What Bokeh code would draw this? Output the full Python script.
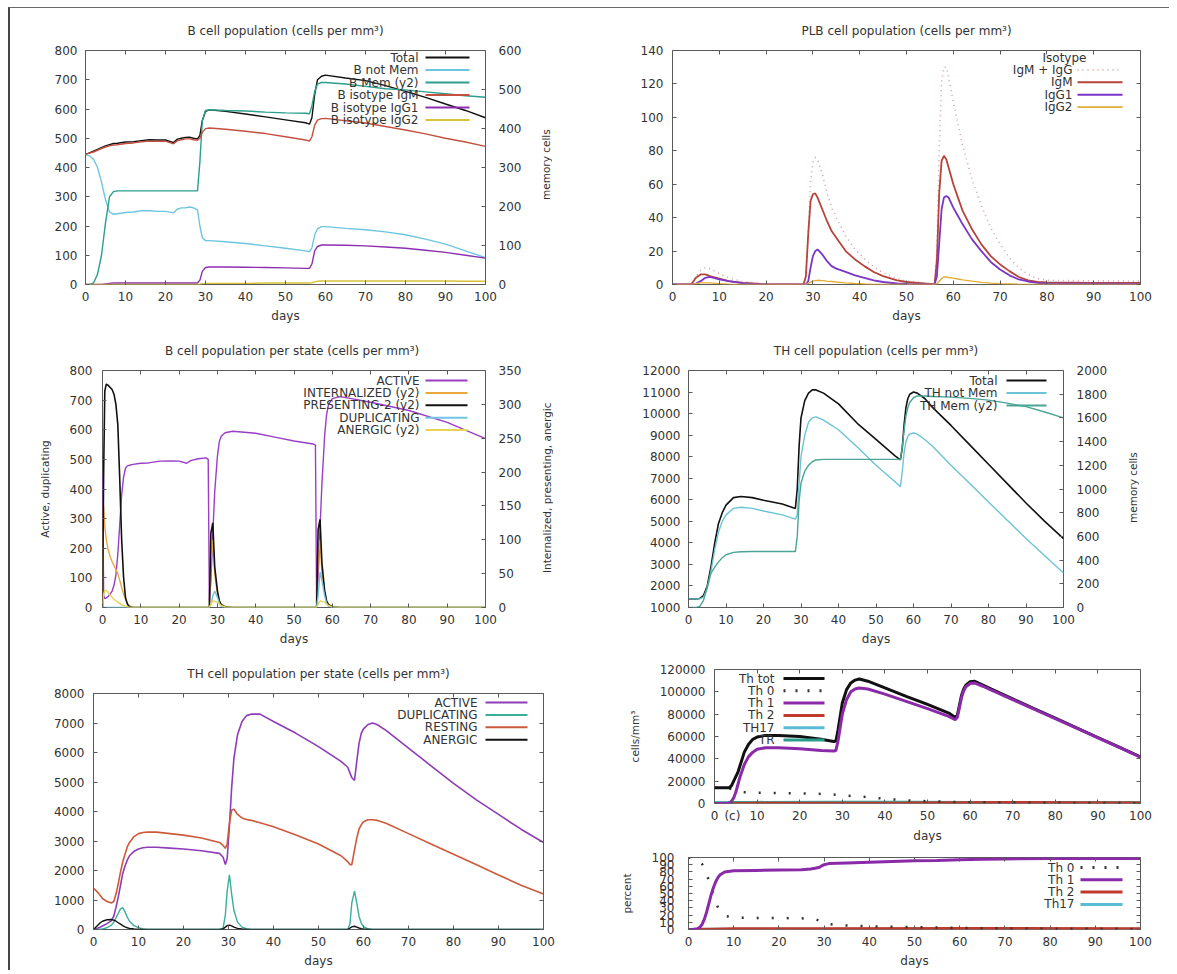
import math
from bokeh.plotting import figure
from bokeh.models import Range1d, LinearAxis, FixedTicker, Label, Arrow, BasicTickFormatter, Div
from bokeh.layouts import row, column
from bokeh.embed import file_html
from bokeh.resources import INLINE

FONT = "DejaVu Sans"
TXT = "#333333"
FRAME = "#5a5a5a"
BLACK = "#111111"
FS = "12px"
FS_ROT = "10.5px"

# ---------------- Panel 1: B cell population ----------------
b_days = [0, 1, 2, 3, 4, 5, 6, 7, 8,
          10, 12, 14, 16, 18, 20, 22,
          23, 24, 25, 26, 27, 28,
          28.6, 29.2, 30, 31,
          35, 40, 45, 50, 55, 56,
          56.6, 57.3, 58, 59, 60,
          65, 70, 75, 80, 85, 90, 95, 100]
b_total = [445, 450, 456, 462, 468, 474, 478, 482, 483,
           487, 488, 492, 495, 494, 494, 485,
           497, 500, 503, 504, 500, 498,
           510, 560, 592, 597,
           592, 583, 573, 563, 553, 548,
           570, 650, 700, 712, 716,
           706, 697, 680, 660, 640, 617, 595, 570]
b_not_mem = [445, 440, 428, 400, 350, 290, 248, 240, 242,
             246, 248, 252, 252, 250, 250, 245,
             258, 262, 262, 265, 262, 255,
             200, 160, 150, 150,
             146, 140, 132, 124, 115, 112,
             125, 170, 190, 198, 198,
             192, 187, 180, 170, 155, 138, 115, 92]
b_mem_y2 = [0, 0, 4, 26, 75, 158, 225, 238, 240,
            240, 240, 240, 240, 240, 240, 240,
            240, 240, 240, 240, 240, 240,
            315, 420, 446, 448,
            446, 445, 442, 440, 439, 438,
            458, 495, 514, 518, 518,
            514, 508, 502, 499, 494, 489, 484, 480]
b_igm = [445, 449, 453, 459, 465, 470, 474, 477, 478,
         482, 484, 488, 490, 490, 490, 481,
         492, 495, 498, 498, 495, 493,
         500, 520, 533, 535,
         531, 524, 516, 505, 494, 490,
         505, 545, 562, 567, 568,
         560, 552, 540, 528, 515, 500, 487, 472]
b_igg1 = [0, 0, 0, 0, 0, 2, 4, 5, 5,
          5, 5, 5, 5, 5, 5, 5,
          5, 5, 5, 5, 5, 5,
          15, 45, 58, 60,
          60, 59, 58, 57, 55, 55,
          70, 115, 130, 135, 135,
          134, 132, 128, 124, 117, 110, 100, 90]
b_igg2 = [0, 0, 0, 0, 0, 0, 0, 0, 0,
          0, 0, 0, 0, 0, 0, 0,
          0, 0, 0, 0, 0, 0,
          1, 3, 4, 4,
          4, 4, 5, 5, 5, 5,
          6, 9, 11, 12, 12,
          12, 12, 12, 12, 12, 12, 11, 11]
b_labels = ["Total", "B not Mem", "B Mem (y2)", "B isotype IgM", "B isotype IgG1", "B isotype IgG2"]

# ---------------- Panel 2: PLB cell population ----------------
plb_days = [0, 4, 5, 6, 7, 8, 10, 12, 15, 18, 20,
            28, 28.5, 29, 29.5, 30, 30.5, 31,
            32, 33, 34, 35, 37, 39, 41, 43, 45, 48, 50,
            55, 56, 56.5, 57, 57.5, 58, 58.5, 59,
            60, 61, 62, 64, 66, 68, 70, 72, 74, 76, 78, 80,
            90, 100]
plb_igm_igg = [0, 0, 5, 8.5, 10, 9.5, 6.5, 4, 1.8, 0.7, 0,
               0, 5, 32, 61, 73, 76, 75,
               66, 55, 46, 40, 29, 21, 15.5, 10.5, 7, 3.5, 2,
               0.5, 0, 20, 82, 121, 130, 130, 124,
               109, 96, 83, 63, 47, 34, 24, 16, 10, 6, 3.5, 2.5,
               2.2, 2]
plb_igm = [0, 0, 4, 6, 6, 5, 3.5, 2, 1, 0.5, 0,
           0, 5, 30, 50, 54, 54.5, 52,
           45, 38, 32, 28, 20, 15, 11, 7.5, 5, 2.5, 1.5,
           0.3, 0, 15, 55, 74, 77, 75, 70,
           60, 52, 44, 33, 24, 17, 12, 8, 4.5, 2.5, 1.5, 1.2,
           1, 1]
plb_igg1 = [0, 0, 0.5, 2, 4, 4.5, 3, 2, 0.8, 0.2, 0,
            0, 0, 2, 10, 17, 20, 21,
            18, 14, 11, 9.5, 7.5, 5.5, 4, 2.5, 1.5, 0.6, 0.3,
            0, 0, 5, 25, 45, 52, 53, 52,
            46, 41, 36, 27, 20, 13.5, 9, 5.5, 3, 1.8, 1, 0.6,
            0.5, 0.4]
plb_igg2 = [0, 0, 0.5, 1, 1, 1, 0.5, 0.2, 0, 0, 0,
            0, 0, 0.5, 1.5, 2, 2.3, 2.5,
            2.3, 2, 1.8, 1.5, 1, 0.6, 0.3, 0.1, 0, 0, 0,
            0, 0, 0.5, 2, 3.5, 4.5, 4.5, 4.2,
            3.8, 3.3, 2.8, 2, 1.3, 0.8, 0.5, 0.3, 0.1, 0, 0, 0,
            0, 0]
plb_labels = ["IgM + IgG", "IgM", "IgG1", "IgG2"]

# ---------------- Panel 3: B cell population per state ----------------
bs_days = [0, 0.3, 0.6, 1, 1.5, 2, 2.5, 3, 3.5, 4,
           4.5, 5, 5.5, 6, 6.5, 7, 8,
           10, 12, 15, 18, 20, 22, 23, 25, 27,
           27.6, 27.9, 28.3, 28.8, 29.3, 30, 30.5, 31, 32, 34,
           40, 45, 50, 55,
           55.6, 55.9, 56.3, 56.8, 57.3, 58, 58.5, 59, 60, 62,
           65, 70, 80, 90, 100]
bs_active = [450, 40, 30, 32, 38, 45, 55, 75, 110, 180,
             280, 380, 440, 470, 478, 480, 483,
             487, 488, 494, 495, 494, 487, 496, 502, 505,
             500, 20, 90, 250, 390, 510, 560, 578, 590, 595,
             588, 575, 562, 552,
             548, 20, 100, 270, 420, 580, 650, 685, 705, 712,
             705, 693, 665, 625, 570]
bs_internalized_y2 = [0, 150, 120, 100, 85, 75, 68, 62, 56, 50,
                      40, 30, 20, 12, 6, 3, 0,
                      0, 0, 0, 0, 0, 0, 0, 0, 0,
                      0, 0, 70, 100, 50, 20, 10, 5, 1, 0,
                      0, 0, 0, 0,
                      0, 0, 70, 100, 50, 20, 10, 5, 1, 0,
                      0, 0, 0, 0, 0]
bs_presenting_y2 = [0, 200, 320, 330, 328, 325, 322, 315, 300, 270,
                    190, 100, 45, 15, 5, 1, 0,
                    0, 0, 0, 0, 0, 0, 0, 0, 0,
                    0, 0, 110, 125, 60, 25, 10, 4, 1, 0,
                    0, 0, 0, 0,
                    0, 0, 115, 130, 65, 25, 10, 4, 1, 0,
                    0, 0, 0, 0, 0]
bs_duplicating = [0, 0, 0, 0, 0, 0, 0, 0, 0, 0,
                  0, 0, 0, 0, 0, 0, 0,
                  0, 0, 0, 0, 0, 0, 0, 0, 0,
                  0, 0, 10, 40, 55, 35, 15, 5, 0, 0,
                  0, 0, 0, 0,
                  0, 0, 40, 120, 90, 40, 15, 5, 0, 0,
                  0, 0, 0, 0, 0]
bs_anergic_y2 = [0, 20, 25, 25, 22, 18, 15, 12, 10, 8,
                 6, 4, 3, 2, 1, 0, 0,
                 0, 0, 0, 0, 0, 0, 0, 0, 0,
                 0, 0, 5, 10, 9, 8, 5, 3, 1, 0,
                 0, 0, 0, 0,
                 0, 0, 5, 10, 9, 8, 5, 3, 1, 0,
                 0, 0, 0, 0, 0]
bs_labels = ["ACTIVE", "INTERNALIZED (y2)", "PRESENTING-2 (y2)", "DUPLICATING", "ANERGIC (y2)"]

# ---------------- Panel 4: TH cell population ----------------
th_days = [0, 2, 3, 4, 5, 6, 7, 8, 9, 10,
           12, 14, 17, 20, 25,
           28.5, 29, 29.5, 30, 31, 32, 33, 34, 36,
           40, 45, 50, 55,
           56.5, 57, 57.5, 58, 58.5, 59, 60, 61, 63, 65,
           70, 75, 80, 85, 90, 95, 100]
th_total = [1400, 1400, 1420, 1550, 2000, 2900, 4000, 4900, 5400, 5750,
            6100, 6150, 6100, 5980, 5800,
            5600, 6500, 8500, 9800, 10600, 10950, 11100, 11100, 10950,
            10450, 9550, 8800, 8050,
            7850, 8400, 9500, 10300, 10700, 10900, 11000, 10950, 10700, 10300,
            9450, 8550, 7650, 6750, 5850, 5000, 4200]
th_not_mem = [1400, 1400, 1400, 1480, 1900, 2700, 3700, 4500, 5000, 5300,
              5600, 5650, 5600, 5480, 5300,
              5100, 5300, 6800, 8000, 9000, 9600, 9800, 9850, 9700,
              9250, 8450, 7600, 6850,
              6600, 7300, 8200, 8700, 8950, 9050, 9100, 9050, 8800, 8500,
              7600, 6750, 5900, 5050, 4200, 3400, 2600]
th_mem_y2 = [0, 0, 10, 60, 170, 290, 340, 385, 420, 445,
             465, 470, 472, 472, 472,
             472, 600, 900, 1050, 1150, 1200, 1230, 1245, 1250,
             1250, 1250, 1250, 1250,
             1250, 1350, 1500, 1620, 1690, 1730, 1770, 1785, 1785, 1780,
             1775, 1765, 1750, 1725, 1695, 1650, 1600]
th_labels = ["Total", "TH not Mem", "TH Mem (y2)"]

# ---------------- Panel 5: TH cell population per state ----------------
tp_days = [0, 1, 1.5, 2, 3, 4, 4.5, 5, 5.5, 6,
           6.5, 7, 7.5, 8, 9, 10, 11, 12, 14, 17,
           20, 24, 28, 28.8, 29.3, 29.7, 30.2, 30.7, 31.2, 32,
           33, 34, 35, 37, 40, 45, 50, 55,
           56.5, 57, 57.4, 58, 58.5, 59, 59.5, 60, 61, 62,
           63, 65, 70, 75, 80, 85, 90, 95, 100]
tp_active = [0, 50, 80, 120, 200, 300, 450, 750, 1100, 1500,
             1900, 2150, 2350, 2500, 2650, 2730, 2770, 2790, 2790, 2760,
             2730, 2670, 2580, 2450, 2200, 2400, 3500, 4800, 5800, 6600,
             7050, 7250, 7300, 7300, 7050, 6650, 6200, 5700,
             5500, 5300, 5150, 5050, 5700, 6300, 6650, 6800, 6950, 7000,
             6950, 6750, 6150, 5550, 4950, 4400, 3900, 3400, 2950]
tp_duplicating = [0, 0, 10, 20, 60, 150, 250, 400, 550, 700,
                  740, 600, 420, 280, 130, 60, 20, 5, 0, 0,
                  0, 0, 0, 50, 500, 1300, 1850, 1200, 650, 250,
                  80, 25, 5, 0, 0, 0, 0, 0,
                  0, 200, 900, 1300, 900, 450, 220, 100, 25, 5,
                  0, 0, 0, 0, 0, 0, 0, 0, 0]
tp_resting = [1400, 1250, 1150, 1050, 950, 900, 950, 1200, 1550, 1950,
              2300, 2550, 2800, 2950, 3150, 3250, 3290, 3300, 3300, 3250,
              3200, 3100, 2950, 2850, 2750, 2900, 3600, 4050, 4080, 3900,
              3780, 3730, 3700, 3620, 3480, 3200, 2900, 2500,
              2300, 2200, 2200, 2700, 3100, 3400, 3550, 3650, 3720, 3720,
              3700, 3600, 3250, 2900, 2550, 2200, 1850, 1500, 1200]
tp_anergic = [0, 150, 230, 280, 330, 340, 320, 280, 230, 180,
              130, 90, 60, 40, 15, 5, 0, 0, 0, 0,
              0, 0, 0, 20, 80, 130, 150, 120, 80, 40,
              15, 5, 0, 0, 0, 0, 0, 0,
              0, 50, 90, 110, 80, 50, 30, 15, 5, 0,
              0, 0, 0, 0, 0, 0, 0, 0, 0]
tp_labels = ["ACTIVE", "DUPLICATING", "RESTING", "ANERGIC"]

# ---------------- Panel 6: Th subsets (cells/mm3) ----------------
ts_days = [0, 3, 3.5, 4, 4.5, 5, 5.5, 6, 7, 8,
           9, 10, 12, 15, 20, 25, 28, 28.5, 29, 29.5,
           30, 31, 32, 33, 34, 36, 40, 45, 50, 55,
           56.5, 57, 57.5, 58, 58.5, 59, 60, 61, 63, 65,
           70, 75, 80, 85, 90, 95, 100]
ts_th_tot = [14000, 14000, 14200, 16000, 20000, 24000, 28000, 34000, 46000, 53000,
             57500, 59500, 61000, 61000, 60000, 57500, 55500, 56000, 66000, 78000,
             90000, 102000, 108000, 110500, 111500, 109500, 103500, 96000, 88700, 81000,
             77000, 79000, 88000, 97000, 102500, 106000, 109000, 109500, 106000, 102400,
             93700, 85000, 76400, 67700, 59100, 50400, 41700]
ts_th0 = [14000, 14000, 13500, 13000, 12000, 11000, 10500, 10200, 10000, 9900,
          9800, 9700, 9600, 9400, 9000, 8600, 8000, 7900, 7800, 7600,
          7500, 7000, 6700, 6400, 6200, 5800, 4200, 2800, 2000, 1500,
          1400, 1400, 1350, 1300, 1300, 1250, 1200, 1200, 1100, 1000,
          800, 700, 600, 500, 400, 350, 300]
ts_th1 = [0, 0, 500, 2000, 5000, 10000, 17000, 24000, 35000, 42000,
          46000, 48500, 50000, 50000, 49000, 47500, 47000, 47500, 56000, 68000,
          80000, 93000, 100000, 102500, 103500, 102500, 98000, 91500, 85000, 78000,
          75000, 77000, 86000, 95000, 101000, 104500, 107500, 108000, 105000, 101500,
          93000, 84500, 76000, 67500, 58800, 50200, 41500]
ts_minor_days = [0, 3, 5, 10, 30, 45, 60, 70, 80, 100]
ts_th2 = [0, 0, 100, 200, 300, 400, 700, 800, 700, 500]
ts_th17 = [0, 0, 100, 150, 200, 200, 250, 250, 200, 200]
ts_tr = [600, 600, 800, 1000, 1100, 1100, 1000, 1000, 900, 900]
ts_labels = ["Th tot", "Th 0", "Th 1", "Th 2", "TH17", "TR"]

# ---------------- Panel 7: Th subsets (percent) ----------------
pct_days = [0, 1, 2, 2.5, 3, 3.5, 4, 4.5, 5, 5.5,
            6, 6.5, 7, 8, 10, 15, 20, 25, 27, 28,
            29, 29.5, 30, 31, 35, 40, 45, 50, 55, 60,
            65, 70, 80, 90, 100]
pct_th1 = [0, 0, 1, 3, 7, 14, 24, 36, 48, 58,
           66, 72, 76, 80, 81.5, 82, 82.5, 83, 84, 85,
           86.5, 88.5, 90, 91.5, 92.5, 93.5, 94.5, 95.5, 96, 97,
           97.5, 98, 98.5, 98.5, 98.5]
pct_th0 = [100, 99, 97, 94, 91, 85, 77, 68, 58, 48,
           38, 31, 25, 19, 16.5, 16, 16, 15.5, 15, 14.5,
           12, 10, 8.5, 7.5, 5.5, 4.5, 3.8, 3.2, 2.8, 2.2,
           1.8, 1.5, 1.2, 1, 0.8]
pct_minor_days = [0, 5, 10, 30, 60, 100]
pct_th2 = [0, 0.5, 1, 1.2, 1.5, 1.2]
pct_th17 = [0, 0.2, 0.3, 0.3, 0.4, 0.3]
pct_labels = ["Th 0", "Th 1", "Th 2", "Th17"]

X_TICKS = list(range(0, 101, 10))


def style_axis(ax, tick_vals, labels=True):
    ax.ticker = FixedTicker(ticks=tick_vals)
    ax.formatter = BasicTickFormatter(use_scientific=False)
    ax.axis_line_color = None
    ax.major_tick_in = 4
    ax.major_tick_out = 0
    ax.major_tick_line_color = FRAME
    ax.minor_tick_line_color = None
    ax.major_label_text_font = FONT
    ax.major_label_text_font_size = FS
    ax.major_label_text_color = TXT
    ax.axis_label_text_font = FONT
    ax.axis_label_text_font_size = FS
    ax.axis_label_text_font_style = "normal"
    ax.axis_label_text_color = TXT
    if not labels:
        ax.major_label_overrides = {t: "" for t in tick_vals}
        ax.major_label_standoff = 0


def make_panel(width, height, borders, y_range, y_ticks, title=None, y_label=None,
               y_std=9, y2_range=None, y2_ticks=None, x_std=(7, 5)):
    bl, br, bt, bb = borders
    p = figure(width=width, height=height, x_range=Range1d(0, 100),
               y_range=Range1d(*y_range), output_backend="svg",
               toolbar_location=None, tools="", title=title,
               min_border_left=bl, min_border_right=br,
               min_border_top=bt, min_border_bottom=bb)
    p.frame_align = False
    p.xgrid.visible = False
    p.ygrid.visible = False
    p.outline_line_color = FRAME
    p.outline_line_width = 1
    p.background_fill_color = "white"
    p.border_fill_color = "white"
    xa = p.below[0]
    style_axis(xa, X_TICKS)
    xa.axis_label = "days"
    xa.major_label_standoff = x_std[0]
    xa.axis_label_standoff = x_std[1]
    ya = p.left[0]
    style_axis(ya, y_ticks)
    ya.major_label_standoff = y_std
    if y_label:
        ya.axis_label = y_label
        ya.axis_label_standoff = 16
        ya.axis_label_text_font_size = FS_ROT
    top = LinearAxis()
    style_axis(top, X_TICKS, labels=False)
    p.add_layout(top, "above")
    if y2_range:
        p.extra_y_ranges = {"y2": Range1d(*y2_range)}
        ra = LinearAxis(y_range_name="y2")
        style_axis(ra, y2_ticks)
        ra.major_label_standoff = 13
        p.add_layout(ra, "right")
    else:
        ra = LinearAxis()
        style_axis(ra, y_ticks, labels=False)
        p.add_layout(ra, "right")
    if title:
        p.title.text_font = FONT
        p.title.text_font_size = FS
        p.title.text_font_style = "normal"
        p.title.text_color = TXT
        p.title.align = "center"
        p.title.standoff = 26
    return p


def y2_title(text, width, height, inner_h, pad):
    # second-axis title beside a panel, reading bottom-to-top like the original
    html = ('<div style="writing-mode:vertical-rl;transform:rotate(180deg);'
            f'height:{inner_h}px;text-align:center;margin-left:{pad}px;'
            f"font-family:'DejaVu Sans';font-size:{FS_ROT};color:{TXT};"
            'white-space:nowrap;line-height:13px;">' + text + '</div>')
    return Div(text=html, width=width, height=height, margin=(0, 0, 0, 0),
               styles={"background-color": "white"})


def gp_legend(p, frame_h, labels, colors, dashes, widths, text_right, s0, s1, top, step,
              heading=None, heading_x=None):
    if heading:
        p.add_layout(Label(x=heading_x, y=frame_h - top, x_units="screen", y_units="screen",
                           text=heading, text_align="center", text_baseline="middle",
                           text_font=FONT, text_font_size=FS, text_color=TXT))
        top += step
    for i, (lab, col, dash, w) in enumerate(zip(labels, colors, dashes, widths)):
        y = frame_h - top - i * step
        p.add_layout(Label(x=text_right, y=y, x_units="screen", y_units="screen", text=lab,
                           text_align="right", text_baseline="middle",
                           text_font=FONT, text_font_size=FS, text_color=TXT))
        p.add_layout(Arrow(end=None, x_start=s0, y_start=y, x_end=s1, y_end=y,
                           start_units="screen", end_units="screen",
                           line_color=col, line_width=w, line_dash=dash))


LW = 1.4

# Panel 1
p1 = make_panel(524, 318, (75, 49, 38, 42), (0, 800), list(range(0, 801, 100)),
                title="B cell population (cells per mm³)",
                y2_range=(0, 600), y2_ticks=list(range(0, 601, 100)), y_std=8)
c1 = [BLACK, "#6ec5e0", "#2b9e8c", "#c4503f", "#8e2eb0", "#d8c23a"]
p1.line(b_days, b_total, color=c1[0], line_width=LW)
p1.line(b_days, b_not_mem, color=c1[1], line_width=LW)
p1.line(b_days, b_mem_y2, color=c1[2], line_width=LW, y_range_name="y2")
p1.line(b_days, b_igm, color=c1[3], line_width=LW)
p1.line(b_days, b_igg1, color=c1[4], line_width=LW)
p1.line(b_days, b_igg2, color=c1[5], line_width=LW)
gp_legend(p1, 238, b_labels, c1, ["solid"] * 6, [2] * 6, 333, 340, 384, 11, 12.5)
d1 = y2_title("memory cells", 56, 318, 314, 6)

# Panel 2
p2 = make_panel(579, 318, (82, 29, 38, 42), (0, 140), list(range(0, 141, 20)),
                title="PLB cell population (cells per mm³)", y_std=9)
c2 = ["#d6a0a6", "#b5453a", "#7a35c8", "#e2ae35"]
p2.line(plb_days, plb_igm_igg, color=c2[0], line_width=1.6, line_dash="1 4")
p2.line(plb_days, plb_igm, color=c2[1], line_width=1.8)
p2.line(plb_days, plb_igg1, color=c2[2], line_width=1.8)
p2.line(plb_days, plb_igg2, color=c2[3], line_width=1.4)
gp_legend(p2, 238, plb_labels, c2, ["1 4", "solid", "solid", "solid"], [1.6, 2, 2, 1.6],
          400, 405, 450, 11, 12.4, heading="Isotype", heading_x=392)

# Panel 3
p3 = make_panel(524, 323, (92, 49, 44, 42), (0, 800), list(range(0, 801, 100)),
                title="B cell population  per state (cells per mm³)", y_label="Active, duplicating",
                y2_range=(0, 350), y2_ticks=list(range(0, 351, 50)), y_std=10)
c3 = ["#9a3ec4", "#e8a83c", BLACK, "#72c4e2", "#e6d452"]
p3.line(bs_days, bs_active, color=c3[0], line_width=LW)
p3.line(bs_days, bs_internalized_y2, color=c3[1], line_width=LW, y_range_name="y2")
p3.line(bs_days, bs_presenting_y2, color=c3[2], line_width=1.6, y_range_name="y2")
p3.line(bs_days, bs_duplicating, color=c3[3], line_width=LW)
p3.line(bs_days, bs_anergic_y2, color=c3[4], line_width=LW, y_range_name="y2")
gp_legend(p3, 237, bs_labels, c3, ["solid"] * 5, [2] * 5, 317, 323, 365, 10, 12.4)
d3 = y2_title("Internalized, presenting, anergic", 56, 323, 323, 7)

# Panel 4
p4 = make_panel(530, 323, (98, 57, 44, 42), (1000, 12000), list(range(1000, 12001, 1000)),
                title="TH cell population (cells per mm³)",
                y2_range=(0, 2000), y2_ticks=list(range(0, 2001, 200)), y_std=8)
c4 = [BLACK, "#6cc3d6", "#4aa596"]
p4.line(th_days, th_total, color=c4[0], line_width=1.6)
p4.line(th_days, th_not_mem, color=c4[1], line_width=LW)
p4.line(th_days, th_mem_y2, color=c4[2], line_width=LW, y_range_name="y2")
gp_legend(p4, 237, th_labels, c4, ["solid"] * 3, [2] * 3, 309, 318, 358, 10, 12.5)
d4 = y2_title("memory cells", 49, 323, 323, 7)

# Panel 5
p5 = make_panel(580, 321, (83, 47, 44, 40), (0, 8000), list(range(0, 8001, 1000)),
                title="TH cell population per state (cells per mm³)", y_std=9)
c5 = ["#8e3cb8", "#3aae9a", "#cc5a3a", BLACK]
p5.line(tp_days, tp_active, color=c5[0], line_width=1.6)
p5.line(tp_days, tp_duplicating, color=c5[1], line_width=LW)
p5.line(tp_days, tp_resting, color=c5[2], line_width=1.6)
p5.line(tp_days, tp_anergic, color=c5[3], line_width=LW)
gp_legend(p5, 237, tp_labels, c5, ["solid"] * 4, [2] * 4, 384, 392, 434, 10, 12.4)

# Panel 6
p6 = make_panel(579, 196, (124, 29, 20, 41), (0, 120000), list(range(0, 120001, 20000)),
                y_label="cells/mm³", y_std=9, x_std=(5, 3))
p6.below[0].ticker = FixedTicker(ticks=X_TICKS + [4.2])
p6.below[0].major_label_overrides = {4.2: "(c)"}
c6 = [BLACK, "#333333", "#8a2aa8", "#c0392b", "#5bbcd6", "#2a9d8a"]
p6.line(ts_minor_days, ts_tr, color=c6[5], line_width=3)
p6.line(ts_minor_days, ts_th17, color=c6[4], line_width=3)
p6.line(ts_minor_days, ts_th2, color=c6[3], line_width=3)
p6.line(ts_days, ts_th0, color=c6[1], line_width=2.5, line_dash="2 13")
p6.line(ts_days, ts_th_tot, color=c6[0], line_width=3)
p6.line(ts_days, ts_th1, color=c6[2], line_width=3)
gp_legend(p6, 135, ts_labels, c6, ["solid", "2 10", "solid", "solid", "solid", "solid"], [3] * 6,
          60, 69, 110, 10, 12.3)

# Panel 7
p7 = make_panel(579, 125, (98, 29, 12, 39), (0, 100), list(range(0, 101, 10)),
                y_label="percent", y_std=14)
c7 = ["#333333", "#8a2aa8", "#c0392b", "#5bbcd6"]
p7.line(pct_minor_days, pct_th17, color=c7[3], line_width=3)
p7.line(pct_minor_days, pct_th2, color=c7[2], line_width=3)
p7.line(pct_days, pct_th0, color=c7[0], line_width=2.5, line_dash="2 13")
p7.line(pct_days, pct_th1, color=c7[1], line_width=3)
gp_legend(p7, 74, pct_labels, c7, ["2 10", "solid", "solid", "solid"], [3] * 4,
          386, 392, 434, 12, 12.3)

left_col = column(row(p1, d1), row(p3, d3), p5)
right_col = column(p2, row(p4, d4), p6, p7)
layout = row(left_col, right_col, margin=(7, 0, 0, 8),
             styles={"border-top": "1px solid #6a6a6a", "border-left": "2px solid #454545"})
open("out.html", "w").write(file_html(layout, INLINE))
